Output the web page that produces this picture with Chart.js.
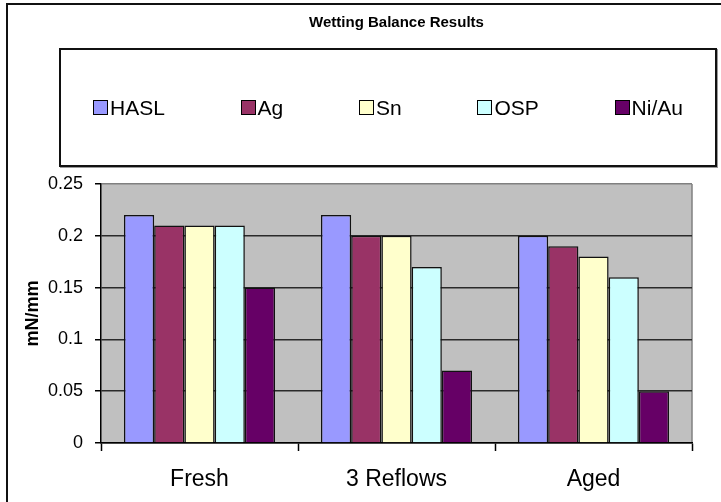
<!DOCTYPE html>
<html>
<head>
<meta charset="utf-8">
<script src="https://cdn.jsdelivr.net/npm/chart.js@4/dist/chart.umd.min.js"></script>
<style>
  html, body { margin: 0; padding: 0; background: #fff; }
  body { width: 721px; height: 502px; position: relative; overflow: hidden; font-family: "Liberation Sans", Arial, sans-serif; }
  /* outer frame around the whole figure */
  .frame { position: absolute; left: 6px; top: 3px; width: 800px; height: 600px;
           border-left: 2px solid #111; border-top: 2px solid #111; }
  #chartWrap { position: absolute; left: 0; top: 0; width: 721px; height: 502px; }
  /* boxed legend under the title */
  .legend { position: absolute; left: 59px; top: 48px; width: 590px; height: 115px;
            border: 2px solid #111; box-shadow: 1px 1px 0 #999; background: #fff;
            display: flex; align-items: center; justify-content: space-between;
            padding: 0 32px; box-sizing: content-box; }
  .legend .item { display: flex; align-items: center; font-size: 21px; color: #000; }
  .legend .swatch { width: 13px; height: 13px; border: 1px solid #000; margin-right: 2px; }
</style>
</head>
<body>
<div class="frame"></div>
<div id="chartWrap"><canvas id="myChart" width="721" height="502"></canvas></div>
<div class="legend" id="legend"></div>

<script>
const categories = ['Fresh', '3 Reflows', 'Aged'];
const seriesNames = ['HASL', 'Ag', 'Sn', 'OSP', 'Ni/Au'];
const seriesColors = ['#9999FF', '#993366', '#FFFFCC', '#CCFFFF', '#660066'];

// wetting force per finish, one value per category
const haslValues = [0.22, 0.22, 0.20];
const agValues   = [0.21, 0.20, 0.19];
const snValues   = [0.21, 0.20, 0.18];
const ospValues  = [0.21, 0.17, 0.16];
const niauValues = [0.15, 0.07, 0.05];
const seriesValues = [haslValues, agValues, snValues, ospValues, niauValues];

const yTicks = [0, 0.05, 0.1, 0.15, 0.2, 0.25];

const FONT = '"Liberation Sans", Arial, sans-serif';

// legend built from the same series lists
const legendEl = document.getElementById('legend');
seriesNames.forEach((name, i) => {
    const item = document.createElement('div');
    item.className = 'item';
    const sw = document.createElement('span');
    sw.className = 'swatch';
    sw.style.background = seriesColors[i];
    const txt = document.createElement('span');
    txt.textContent = name;
    item.appendChild(sw);
    item.appendChild(txt);
    legendEl.appendChild(item);
});

// grey plot background with the light right edge
const plotBackground = {
    id: 'plotBackground',
    beforeDraw(chart) {
        const { ctx, chartArea: a } = chart;
        ctx.save();
        ctx.fillStyle = '#C0C0C0';
        ctx.fillRect(a.left, a.top, a.right - a.left, a.bottom - a.top);
        ctx.strokeStyle = '#808080';
        ctx.lineWidth = 1.5;
        ctx.beginPath();
        ctx.moveTo(a.right, a.top);
        ctx.lineTo(a.right, a.bottom);
        ctx.stroke();
        ctx.restore();
    }
};

const ctx = document.getElementById('myChart');

new Chart(ctx, {
    type: 'bar',
    data: {
        labels: categories,
        datasets: seriesNames.map((name, i) => ({
            label: name,
            data: seriesValues[i],
            backgroundColor: seriesColors[i],
            borderColor: '#111',
            borderWidth: 1.5,
            categoryPercentage: 0.767,
            barPercentage: 1.0
        }))
    },
    options: {
        responsive: false,
        animation: false,
        layout: { padding: { left: 20, right: 29, top: 0, bottom: 0 } },
        plugins: {
            legend: { display: false },
            tooltip: { enabled: false },
            title: {
                display: true,
                text: 'Wetting Balance Results',
                fullSize: false,
                color: '#000',
                font: { family: FONT, size: 15, weight: 'bold' },
                padding: { top: 14, bottom: 152 }
            }
        },
        scales: {
            x: {
                grid: {
                    offset: true,
                    drawOnChartArea: false,
                    drawTicks: true,
                    tickLength: 8,
                    tickColor: '#000',
                    tickWidth: 1.5
                },
                border: { color: '#000', width: 1.5 },
                ticks: { color: '#000', padding: 15, font: { family: FONT, size: 23 } },
                afterFit: s => { s.height = 59; }
            },
            y: {
                min: 0,
                max: 0.25,
                afterBuildTicks: s => { s.ticks = yTicks.map(v => ({ value: v })); },
                grid: {
                    color: c => c.tick && c.tick.value === 0.25 ? '#808080' : '#2a2a2a',
                    lineWidth: 1.5,
                    drawTicks: true,
                    tickLength: 6,
                    tickColor: '#000',
                    tickWidth: 1.5
                },
                border: { color: '#000', width: 1.5 },
                ticks: {
                    color: '#000',
                    padding: 12,
                    font: { family: FONT, size: 18 },
                    callback: v => String(v)
                },
                title: {
                    display: true,
                    text: 'mN/mm',
                    color: '#000',
                    padding: { top: 2, bottom: 0 },
                    font: { family: FONT, size: 18, weight: 'bold' }
                },
                afterFit: s => { s.width = 81; }
            }
        }
    },
    plugins: [plotBackground]
});
</script>
</body>
</html>
